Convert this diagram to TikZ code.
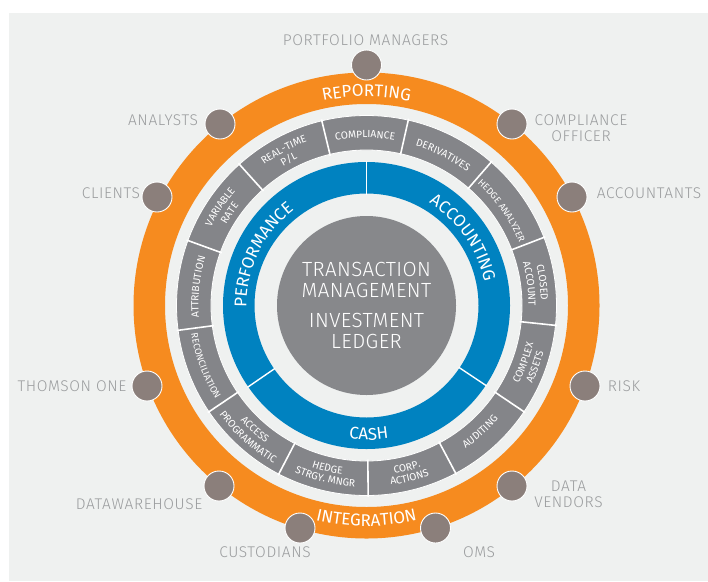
\documentclass[tikz,border=0pt]{standalone}
\usepackage{fontspec}
\usetikzlibrary{decorations.text,calc}
\setmainfont{Fira Sans}
\newfontfamily\lightf[LetterSpace=4]{Fira Sans Light}
\newfontfamily\centref[LetterSpace=2]{Fira Sans Light}
\newfontfamily\cellf{Fira Sans}
\newfontfamily\tightf{Fira Sans}
\newfontfamily\titlef{Fira Sans}
\definecolor{panelc}{HTML}{EFF1F0}
\definecolor{orangec}{HTML}{F68B1F}
\definecolor{bluec}{HTML}{0082C0}
\definecolor{cellc}{HTML}{848589}
\definecolor{diskc}{HTML}{87888B}
\definecolor{dotc}{HTML}{8B7F7B}
\definecolor{labelc}{HTML}{9A9C9E}
\tikzset{
  dot/.style={circle,fill=dotc,draw=white,line width=0.9pt,minimum size=30pt,inner sep=0pt},
  outlabel/.style={text=labelc,font=\lightf\fontsize{15.5}{16}\selectfont,align=center,inner sep=0pt},
  centrelabel/.style={text=white,font=\centref\fontsize{20.5}{21}\selectfont,align=center,inner sep=0pt},
  cellline/.style={white,line width=1.6pt},
}
\newcommand\cellfmt{\color{white}\cellf\fontsize{10.3}{11}\selectfont}
\newcommand\tightfmt{\color{white}\tightf\fontsize{9.4}{10}\selectfont}
\newcommand\bigfmt{\color{white}\titlef\fontsize{17}{18}\selectfont}
% clockwise text (tops point outwards): {angle}{radius}{format}{text}
\newcommand\toptext[4]{\path[decorate,decoration={text along path,text={|#3|#4},text align=center}]
  ($(C)+(#1+70:#2)$) arc[start angle=#1+70,end angle=#1-70,radius=#2];}
% counter-clockwise text (tops point inwards)
\newcommand\bottext[4]{\path[decorate,decoration={text along path,text={|#3|#4},text align=center}]
  ($(C)+(#1-70:#2)$) arc[start angle=#1-70,end angle=#1+70,radius=#2];}
\begin{document}
\begin{tikzpicture}[y=1pt,x=1pt]
\useasboundingbox (0,0) rectangle (708,-581);
\fill[white] (0,0) rectangle (708,-581);
\fill[panelc] (9,-13) rectangle (708,-581);
\coordinate (C) at (366.5,-305.5);
% orange ring
\fill[orangec,even odd rule] (C) circle[radius=233] (C) circle[radius=201.5];
% grey cell ring
\fill[cellc,even odd rule] (C) circle[radius=190] (C) circle[radius=155.5];
\draw[white,line width=0.8pt] (C) circle[radius=190] (C) circle[radius=155.5];
\foreach \a in {103.6,132,160,187.5,214,242.5,270.5,298,326,354,21,49,77.3}
  \draw[cellline] ($(C)+(\a:154)$) -- ($(C)+(\a:191.5)$);
% blue ring
\fill[bluec,even odd rule] (C) circle[radius=143.5] (C) circle[radius=112];
\foreach \a in {90,-33.8,214.5}
  \draw[white,line width=1.4pt] ($(C)+(\a:111)$) -- ($(C)+(\a:144.5)$);
% centre
\fill[diskc] (C) circle[radius=89.5];
\node[centrelabel] (transaction) at (366.5,-279.5) {TRANSACTION\\MANAGEMENT};
\node[centrelabel] (ledger) at (366.5,-330.5) {INVESTMENT\\LEDGER};
% ring titles
\toptext{90}{209}{\bigfmt}{REPORTING}
\bottext{-90}{220.5}{\bigfmt}{INTEGRATION}
\toptext{35}{120}{\bigfmt}{ACCOUNTING}
\toptext{154}{120}{\bigfmt}{PERFORMANCE}
\bottext{-89}{134.5}{\bigfmt}{CASH}
% cell texts
\toptext{90.5}{167.5}{\cellfmt}{COMPLIANCE}
\toptext{63}{167}{\cellfmt}{DERIVATIVES}
\toptext{35}{165}{\tightfmt}{HEDGE ANALYZER}
\toptext{7.5}{174.5}{\cellfmt}{CLOSED}
\toptext{7.5}{162}{\cellfmt}{ACCOUNT}
\toptext{118}{174}{\cellfmt}{REAL-TIME}
\toptext{118}{162}{\cellfmt}{P/L}
\toptext{146}{174}{\cellfmt}{VARIABLE}
\toptext{146}{162}{\cellfmt}{RATE}
\toptext{173.75}{168}{\cellfmt}{ATTRIBUTION}
\bottext{200.5}{177.5}{\tightfmt}{RECONCILIATION}
\bottext{228}{170.5}{\cellfmt}{ACCESS}
\bottext{228}{183}{\cellfmt}{PROGRAMMATIC}
\bottext{256.5}{170.5}{\cellfmt}{HEDGE}
\bottext{256.5}{181.5}{\cellfmt}{STRGY. MNGR}
\bottext{284}{170.5}{\cellfmt}{CORP.}
\bottext{284}{181}{\cellfmt}{ACTIONS}
\bottext{312}{174}{\cellfmt}{AUDITING}
\bottext{340}{171}{\cellfmt}{COMPLEX}
\bottext{340}{183}{\cellfmt}{ASSETS}
% dots
\node[dot] (d1) at (366.5,-65) {};
\node[dot] (d2) at (512,-124) {};
\node[dot] (d3) at (572,-197) {};
\node[dot] (d4) at (585,-386) {};
\node[dot] (d5) at (512,-486) {};
\node[dot] (d6) at (435.5,-528) {};
\node[dot] (d7) at (300,-528) {};
\node[dot] (d8) at (219,-486) {};
\node[dot] (d9) at (147,-386) {};
\node[dot] (d10) at (157,-197) {};
\node[dot] (d11) at (220,-124) {};
% outer labels
\node[outlabel] (l1) at (365.5,-40) {PORTFOLIO MANAGERS};
\node[outlabel] (l2) at (581,-128) {COMPLIANCE\\OFFICER};
\node[outlabel] (l3) at (649,-193) {ACCOUNTANTS};
\node[outlabel] (l4) at (624,-386) {RISK};
\node[outlabel] (l5) at (568.5,-494.5) {DATA\\VENDORS};
\node[outlabel] (l6) at (479,-552) {OMS};
\node[outlabel] (l7) at (265,-552) {CUSTODIANS};
\node[outlabel] (l8) at (139,-504) {DATAWAREHOUSE};
\node[outlabel] (l9) at (72,-386) {THOMSON ONE};
\node[outlabel] (l10) at (111,-193) {CLIENTS};
\node[outlabel] (l11) at (163,-120) {ANALYSTS};
\end{tikzpicture}
\end{document}
